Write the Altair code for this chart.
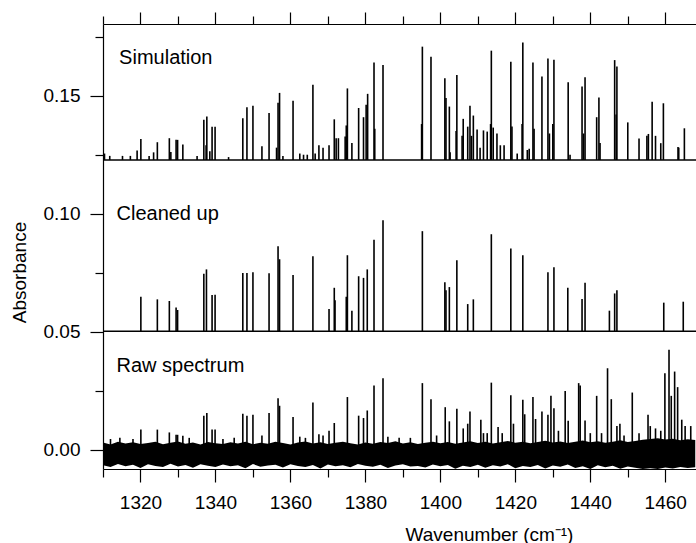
import altair as alt
import pandas as pd

FONT = "Liberation Sans"

# ---- Simulation (peak position, peak top absorbance); baseline offset ----
SIM_BASE = 0.1228
sim_pos = [1310.4, 1311.8, 1315.2, 1317.3, 1319.1, 1320.1, 1322.3, 1323.5, 1324.5, 1327.7,
           1328.1, 1329.5, 1329.9, 1331.3, 1335.1, 1336.9, 1337.5, 1337.7, 1338.5, 1339.1,
           1339.9, 1343.5, 1347.3, 1348.4, 1350.0, 1352.4, 1354.3, 1356.3, 1356.7, 1357.1,
           1358.0, 1360.7, 1362.5, 1363.5, 1364.5, 1366.0, 1366.6, 1367.6, 1368.7, 1370.3,
           1371.7, 1372.2, 1372.8, 1374.6, 1374.9, 1375.2, 1376.4, 1378.2, 1379.5, 1380.2,
           1380.6, 1382.3, 1382.5, 1384.7, 1395.0, 1395.2, 1397.5, 1401.2, 1401.5, 1402.4,
           1402.6, 1404.2, 1404.4, 1405.8, 1406.1, 1407.3, 1407.9, 1408.3, 1408.8, 1409.8,
           1410.6, 1411.5, 1412.5, 1413.4, 1413.6, 1414.1, 1415.1, 1416.0, 1417.0, 1418.8,
           1419.1, 1420.5, 1421.8, 1422.0, 1423.2, 1423.7, 1424.7, 1425.0, 1427.1, 1428.7,
           1429.1, 1430.0, 1430.3, 1434.1, 1434.6, 1437.8, 1438.2, 1438.6, 1441.7, 1442.3,
           1442.6, 1446.5, 1446.9, 1447.1, 1450.0, 1453.0, 1455.1, 1455.5, 1456.5, 1457.4,
           1458.8, 1459.5, 1463.4, 1463.6, 1465.1]
sim_top = [0.1255, 0.1245, 0.1245, 0.1245, 0.1268, 0.1317, 0.1245, 0.1260, 0.1303, 0.1320,
           0.1262, 0.1313, 0.1313, 0.1293, 0.1245, 0.1398, 0.1290, 0.1412, 0.1265, 0.1369,
           0.1369, 0.1240, 0.1405, 0.1451, 0.1458, 0.1286, 0.1427, 0.1280, 0.1470, 0.1512,
           0.1245, 0.1479, 0.1255, 0.1250, 0.1250, 0.1547, 0.1255, 0.1290, 0.1280, 0.1290,
           0.1400, 0.1320, 0.1320, 0.1327, 0.1374, 0.1531, 0.1300, 0.1448, 0.1409, 0.1462,
           0.1508, 0.1641, 0.1360, 0.1630, 0.1380, 0.1708, 0.1665, 0.1574, 0.1490, 0.1454,
           0.1260, 0.1350, 0.1588, 0.1330, 0.1402, 0.1369, 0.1458, 0.1330, 0.1416, 0.1357,
           0.1280, 0.1353, 0.1348, 0.1380, 0.1691, 0.1365, 0.1340, 0.1290, 0.1290, 0.1644,
           0.1370, 0.1255, 0.1380, 0.1726, 0.1270, 0.1275, 0.1641, 0.1360, 0.1581, 0.1658,
           0.1340, 0.1380, 0.1653, 0.1557, 0.1250, 0.1539, 0.1340, 0.1578, 0.1409, 0.1493,
           0.1300, 0.1651, 0.1420, 0.1624, 0.1387, 0.1319, 0.1330, 0.1338, 0.1475, 0.1330,
           0.1299, 0.1468, 0.1283, 0.1280, 0.1362]

# ---- Cleaned up ----
CLEAN_BASE = 0.0502
clean_pos = [1320.1, 1324.5, 1327.7, 1329.5, 1329.9, 1336.9, 1337.6, 1339.1, 1339.9, 1347.3,
             1348.4, 1350.0, 1354.3, 1356.7, 1357.1, 1360.7, 1366.0, 1370.3, 1371.7, 1371.9,
             1374.9, 1375.2, 1376.4, 1378.2, 1379.5, 1380.5, 1382.3, 1384.7, 1395.2, 1401.2,
             1401.5, 1402.4, 1404.4, 1407.3, 1408.8, 1413.6, 1418.8, 1422.0, 1428.7, 1430.3,
             1434.0, 1437.8, 1438.6, 1445.1, 1446.5, 1447.1, 1459.6, 1464.8]
clean_top = [0.0648, 0.0637, 0.0630, 0.0602, 0.0592, 0.0745, 0.0764, 0.0655, 0.0656, 0.0749,
             0.0749, 0.0752, 0.0748, 0.0862, 0.0807, 0.0740, 0.0820, 0.0596, 0.0686, 0.0633,
             0.0648, 0.0824, 0.0589, 0.0735, 0.0728, 0.0764, 0.0890, 0.0972, 0.0926, 0.0710,
             0.0676, 0.0689, 0.0803, 0.0617, 0.0637, 0.0913, 0.0852, 0.0824, 0.0752, 0.0773,
             0.0686, 0.0638, 0.0707, 0.0589, 0.0662, 0.0676, 0.0623, 0.0627]

# ---- Raw spectrum: peaks and noise envelope ----
RAW_BASE = 0.0
raw_pos = [1312.0, 1314.5, 1318.0, 1320.1, 1324.5, 1327.7, 1329.5, 1329.9, 1331.3, 1333.0,
           1336.9, 1337.7, 1339.1, 1339.9, 1342.0, 1345.0, 1347.3, 1348.4, 1350.0, 1352.4,
           1354.3, 1356.7, 1357.1, 1360.7, 1362.5, 1364.0, 1366.0, 1367.6, 1368.7, 1370.3,
           1371.7, 1375.2, 1378.2, 1379.5, 1380.5, 1382.3, 1384.7, 1386.0, 1389.0, 1392.0,
           1395.2, 1397.5, 1399.0, 1401.3, 1402.4, 1404.4, 1406.1, 1407.3, 1407.9, 1410.8,
           1411.5, 1412.5, 1413.6, 1415.4, 1416.5, 1418.8, 1419.5, 1422.0, 1422.5, 1424.7,
           1425.4, 1427.1, 1428.7, 1429.5, 1430.3, 1431.5, 1433.3, 1434.1, 1436.9, 1437.3,
           1438.6, 1440.0, 1441.7, 1443.0, 1444.6, 1445.6, 1447.1, 1447.9, 1449.0, 1451.2,
           1453.0, 1455.4, 1456.0, 1457.4, 1458.8, 1459.9, 1461.0, 1461.6, 1462.5, 1463.3,
           1464.4, 1465.3, 1466.8]
raw_top = [0.0045, 0.0050, 0.0045, 0.0085, 0.0085, 0.0073, 0.0063, 0.0063, 0.0059, 0.0050,
           0.0144, 0.0155, 0.0085, 0.0085, 0.0045, 0.0050, 0.0152, 0.0144, 0.0148, 0.0060,
           0.0155, 0.0218, 0.0186, 0.0138, 0.0055, 0.0050, 0.0200, 0.0065, 0.0060, 0.0080,
           0.0113, 0.0223, 0.0144, 0.0134, 0.0166, 0.0272, 0.0303, 0.0055, 0.0050, 0.0050,
           0.0282, 0.0214, 0.0060, 0.0180, 0.0120, 0.0173, 0.0090, 0.0110, 0.0162, 0.0127,
           0.0070, 0.0070, 0.0284, 0.0096, 0.0070, 0.0231, 0.0110, 0.0211, 0.0150, 0.0223,
           0.0130, 0.0162, 0.0148, 0.0228, 0.0176, 0.0080, 0.0249, 0.0123, 0.0282, 0.0272,
           0.0124, 0.0070, 0.0228, 0.0070, 0.0345, 0.0214, 0.0100, 0.0110, 0.0060, 0.0242,
           0.0070, 0.0148, 0.0100, 0.0090, 0.0080, 0.0324, 0.0423, 0.0228, 0.0331, 0.0265,
           0.0127, 0.0100, 0.0100]

noise_x = list(range(1310, 1470, 2))
noise_hi = [0.0030, 0.0022, 0.0034, 0.0026, 0.0031, 0.0024, 0.0028, 0.0033, 0.0023, 0.0029,
            0.0035, 0.0025, 0.0030, 0.0022, 0.0032, 0.0027, 0.0024, 0.0031, 0.0026, 0.0034,
            0.0023, 0.0029, 0.0025, 0.0033, 0.0028, 0.0022, 0.0030, 0.0035, 0.0026, 0.0031,
            0.0024, 0.0029, 0.0033, 0.0027, 0.0022, 0.0030, 0.0025, 0.0032, 0.0028, 0.0036,
            0.0026, 0.0031, 0.0024, 0.0029, 0.0034, 0.0027, 0.0032, 0.0025, 0.0030, 0.0036,
            0.0028, 0.0033, 0.0026, 0.0031, 0.0037, 0.0029, 0.0034, 0.0027, 0.0032, 0.0038,
            0.0030, 0.0035, 0.0028, 0.0033, 0.0039, 0.0031, 0.0036, 0.0029, 0.0034, 0.0040,
            0.0032, 0.0037, 0.0042, 0.0045, 0.0048, 0.0043, 0.0046, 0.0040, 0.0044, 0.0041]
noise_lo = [-0.0066, -0.0074, -0.0061, -0.0070, -0.0064, -0.0078, -0.0062, -0.0069, -0.0073, -0.0060,
            -0.0071, -0.0065, -0.0077, -0.0062, -0.0068, -0.0074, -0.0063, -0.0070, -0.0066, -0.0079,
            -0.0061, -0.0072, -0.0067, -0.0064, -0.0076, -0.0062, -0.0069, -0.0073, -0.0065, -0.0080,
            -0.0063, -0.0070, -0.0066, -0.0075, -0.0061, -0.0068, -0.0072, -0.0064, -0.0078, -0.0067,
            -0.0062, -0.0071, -0.0069, -0.0076, -0.0063, -0.0070, -0.0065, -0.0081, -0.0068, -0.0073,
            -0.0064, -0.0077, -0.0066, -0.0071, -0.0062, -0.0079, -0.0069, -0.0074, -0.0065, -0.0080,
            -0.0067, -0.0072, -0.0063, -0.0078, -0.0070, -0.0082, -0.0066, -0.0075, -0.0068, -0.0081,
            -0.0071, -0.0077, -0.0082, -0.0079, -0.0082, -0.0076, -0.0080, -0.0073, -0.0078, -0.0075]

# ---- Trace labels ----
label_text = ["Simulation", "Cleaned up", "Raw spectrum"]
label_x = [1314.3, 1313.6, 1313.6]
label_y = [0.1634, 0.0972, 0.0327]

# ---- Axes ----
x_ticks = [1310, 1320, 1330, 1340, 1350, 1360, 1370, 1380, 1390, 1400,
           1410, 1420, 1430, 1440, 1450, 1460, 1470]
y_ticks = [0.0, 0.025, 0.05, 0.075, 0.1, 0.125, 0.15, 0.175]
X_DOM = [1310, 1468.2]
Y_DOM = [-0.0082, 0.1804]

xs = alt.Scale(domain=X_DOM, nice=False, zero=False)
ys = alt.Scale(domain=Y_DOM, nice=False, zero=False)

MAJ_X = "datum.value % 20 == 0"
MAJ_Y = "abs(datum.value * 20 - round(datum.value * 20)) < 0.001"

x_bottom = alt.Axis(
    orient="bottom", values=x_ticks, title="Wavenumber (cm⁻¹)",
    tickSize={"condition": {"test": MAJ_X, "value": 13}, "value": 8},
    labelExpr=f"{MAJ_X} ? format(datum.value, 'd') : ''",
    labelPadding=11, labelFlush=False, labelOverlap=False,
    titleX=386, titleY=71, titleAlign="center", titleBaseline="alphabetic",
)
x_top = alt.Axis(
    orient="top", values=x_ticks, title=None, labels=False,
    tickSize={"condition": {"test": MAJ_X, "value": 12}, "value": 8},
)
y_left = alt.Axis(
    orient="left", values=y_ticks, title="Absorbance",
    tickSize={"condition": {"test": MAJ_Y, "value": 13}, "value": 8},
    labelExpr=f"{MAJ_Y} ? format(datum.value, '.2f') : ''",
    labelPadding=10, labelFlush=False, labelOverlap=False,
    titleX=-84, titleY=248, titleAlign="center", titleBaseline="middle", titleAngle=270,
)

noise_df = pd.DataFrame({"x": noise_x, "lo": noise_lo, "hi": noise_hi})
sim_df = pd.DataFrame({"x": sim_pos, "top": sim_top, "base": [SIM_BASE] * len(sim_pos)})
clean_df = pd.DataFrame({"x": clean_pos, "top": clean_top, "base": [CLEAN_BASE] * len(clean_pos)})
raw_df = pd.DataFrame({"x": raw_pos, "top": raw_top, "base": [RAW_BASE] * len(raw_pos)})
base_df = pd.DataFrame({"y": [SIM_BASE, CLEAN_BASE]})
lab_df = pd.DataFrame({"x": label_x, "y": label_y, "t": label_text})

noise = alt.Chart(noise_df).mark_area(color="black", clip=True, interpolate="linear").encode(
    x=alt.X("x:Q", scale=xs, axis=x_bottom),
    y=alt.Y("lo:Q", scale=ys, axis=y_left),
    y2="hi:Q",
)

def sticks(df, axis):
    return alt.Chart(df).mark_rule(color="black", strokeWidth=1.6, clip=True).encode(
        x=alt.X("x:Q", scale=xs, axis=axis),
        y=alt.Y("top:Q", scale=ys, axis=y_left),
        y2="base:Q",
    )

raw = sticks(raw_df, None)
clean = sticks(clean_df, None)
sim = sticks(sim_df, x_top)

baselines = alt.Chart(base_df).mark_rule(color="black", strokeWidth=1.5).encode(
    y=alt.Y("y:Q", scale=ys, axis=y_left)
)

labels = alt.Chart(lab_df).mark_text(
    align="left", baseline="alphabetic", font=FONT, fontSize=20, color="black"
).encode(
    x=alt.X("x:Q", scale=xs, axis=None),
    y=alt.Y("y:Q", scale=ys, axis=y_left),
    text="t:N",
)

chart = alt.layer(noise, raw, clean, baselines, sim, labels).resolve_axis(
    x="independent"
).properties(
    width=593, height=445,
    padding={"left": 103, "top": 24, "right": 0, "bottom": 74},
    autosize=alt.AutoSizeParams(type="none"),
    background="white",
).configure_view(stroke=None).configure_axis(
    domainColor="black", tickColor="black", labelColor="black", titleColor="black",
    domainWidth=1.2, tickWidth=1.2, labelFont=FONT, titleFont=FONT,
    labelFontSize=19, titleFontSize=19, titleFontWeight="normal", grid=False,
)

chart.save("out.html", embed_options={"renderer": "svg", "actions": False})
